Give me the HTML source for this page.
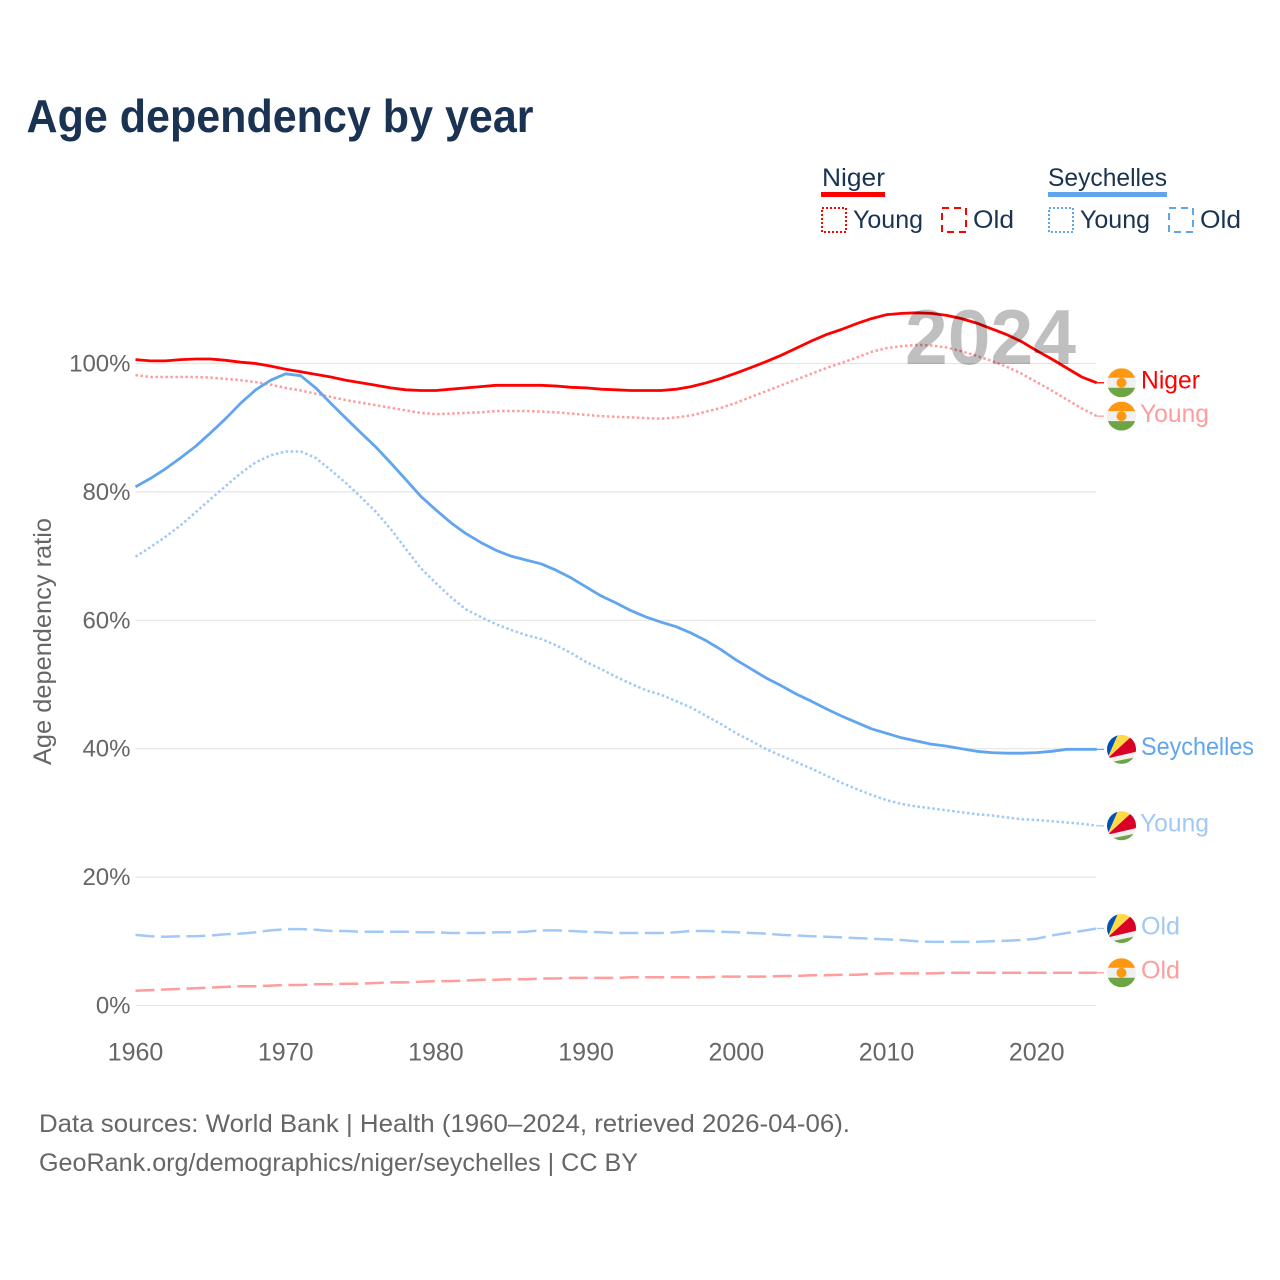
<!DOCTYPE html>
<html lang="en">
<head>
<meta charset="utf-8">
<title>Age dependency by year</title>
<style>
  html,body{margin:0;padding:0;background:#fff;}
  svg{display:block;}
  text{font-family:"Liberation Sans",sans-serif;}
</style>
</head>
<body>
<svg id="chart" width="1280" height="1280" viewBox="0 0 1280 1280" xmlns="http://www.w3.org/2000/svg">
  <rect width="1280" height="1280" fill="#fff"/>
  <text x="26.5" y="132" font-size="46" font-weight="700" fill="#1a3353" textLength="507" lengthAdjust="spacingAndGlyphs">Age dependency by year</text>

  <g font-size="25" fill="#1a3353">
    <text x="822" y="186" textLength="63" lengthAdjust="spacingAndGlyphs">Niger</text>
    <rect x="821" y="192" width="64" height="5" fill="#ff0000"/>
    <rect x="822" y="208" width="24" height="24" fill="none" stroke="#ff0000" stroke-width="2" stroke-dasharray="2 2"/>
    <text x="853" y="228" textLength="70" lengthAdjust="spacingAndGlyphs">Young</text>
    <rect x="942" y="208" width="24" height="24" fill="none" stroke="#ff0000" stroke-width="2" stroke-dasharray="7 5"/>
    <text x="973" y="228" textLength="41" lengthAdjust="spacingAndGlyphs">Old</text>

    <text x="1048" y="186" textLength="119" lengthAdjust="spacingAndGlyphs">Seychelles</text>
    <rect x="1048" y="192" width="119" height="5" fill="#60a5ee"/>
    <rect x="1049" y="208" width="24" height="24" fill="none" stroke="#60a5ee" stroke-width="2" stroke-dasharray="2 2"/>
    <text x="1080" y="228" textLength="70" lengthAdjust="spacingAndGlyphs">Young</text>
    <rect x="1169" y="208" width="24" height="24" fill="none" stroke="#60a5ee" stroke-width="2" stroke-dasharray="7 5"/>
    <text x="1200" y="228" textLength="41" lengthAdjust="spacingAndGlyphs">Old</text>
  </g>

  <g id="grid"></g>
  <g id="yticks"></g>
  <g id="xticks"></g>
  <text transform="translate(51,765) rotate(-90)" font-size="25" fill="#666" textLength="247" lengthAdjust="spacingAndGlyphs">Age dependency ratio</text>
  <g id="series"></g>
  <g id="labels"></g>
  <text id="year" x="905" y="364" font-size="78" font-weight="700" fill="#000" fill-opacity="0.25" textLength="171" lengthAdjust="spacingAndGlyphs">2024</text>

  <text x="39" y="1132" font-size="25" fill="#666" textLength="811" lengthAdjust="spacingAndGlyphs">Data sources: World Bank | Health (1960–2024, retrieved 2026-04-06).</text>
  <text x="39" y="1171" font-size="25" fill="#666" textLength="599" lengthAdjust="spacingAndGlyphs">GeoRank.org/demographics/niger/seychelles | CC BY</text>
</svg>
<script>
const startYear = 1960;
const yTickValues = [0, 20, 40, 60, 80, 100];
const xTickValues = [1960, 1970, 1980, 1990, 2000, 2010, 2020];

const nigerTotal = [100.6,100.4,100.4,100.6,100.7,100.7,100.5,100.2,100.0,99.6,
  99.1,98.7,98.3,97.9,97.4,97.0,96.6,96.2,95.9,95.8,
  95.8,96.0,96.2,96.4,96.6,96.6,96.6,96.6,96.5,96.3,
  96.2,96.0,95.9,95.8,95.8,95.8,96.0,96.4,97.0,97.7,
  98.5,99.4,100.3,101.3,102.4,103.5,104.5,105.3,106.2,107.0,
  107.6,107.8,107.9,107.8,107.5,107.0,106.3,105.4,104.5,103.4,
  102.0,100.7,99.3,97.9,97.0];
const nigerYoung = [98.2,97.9,97.9,97.9,97.9,97.8,97.6,97.4,97.1,96.7,
  96.2,95.8,95.3,94.8,94.3,93.9,93.5,93.1,92.7,92.3,
  92.1,92.2,92.3,92.4,92.6,92.6,92.6,92.5,92.4,92.2,
  92.0,91.8,91.7,91.6,91.5,91.4,91.6,91.9,92.5,93.1,
  93.9,94.8,95.7,96.6,97.5,98.4,99.3,100.1,100.9,101.8,
  102.4,102.7,102.9,102.8,102.5,101.9,101.2,100.4,99.5,98.4,
  97.1,95.8,94.4,93.0,91.8];
const nigerOld = [2.3,2.4,2.5,2.6,2.7,2.8,2.9,3.0,3.0,3.1,
  3.2,3.2,3.3,3.3,3.4,3.4,3.5,3.6,3.6,3.7,
  3.8,3.8,3.9,4.0,4.0,4.1,4.1,4.2,4.2,4.3,
  4.3,4.3,4.3,4.4,4.4,4.4,4.4,4.4,4.4,4.5,
  4.5,4.5,4.5,4.6,4.6,4.7,4.7,4.8,4.8,4.9,
  5.0,5.0,5.0,5.0,5.1,5.1,5.1,5.1,5.1,5.1,
  5.1,5.1,5.1,5.1,5.1];
const seychellesTotal = [80.8,82.1,83.6,85.3,87.1,89.2,91.4,93.8,95.9,97.4,
  98.4,98.1,96.2,93.8,91.5,89.2,87.0,84.5,81.9,79.3,
  77.2,75.2,73.5,72.1,70.9,70.0,69.4,68.8,67.8,66.6,
  65.2,63.8,62.7,61.5,60.5,59.7,59.0,58.0,56.8,55.4,
  53.8,52.4,51.0,49.8,48.5,47.4,46.2,45.1,44.1,43.1,
  42.4,41.7,41.2,40.7,40.4,40.0,39.6,39.4,39.3,39.3,
  39.4,39.6,39.9,39.9,39.9];
const seychellesYoung = [69.9,71.4,73.0,74.8,76.8,78.9,80.9,82.9,84.6,85.7,
  86.3,86.3,85.3,83.4,81.4,79.2,76.9,74.2,71.1,68.1,
  65.8,63.6,61.7,60.5,59.4,58.5,57.7,57.1,56.1,54.9,
  53.5,52.4,51.2,50.1,49.1,48.4,47.4,46.4,45.1,43.8,
  42.4,41.2,39.9,38.9,37.9,36.9,35.8,34.7,33.7,32.8,
  32.0,31.4,31.0,30.7,30.4,30.1,29.8,29.6,29.3,29.0,
  28.9,28.7,28.5,28.3,28.0];
const seychellesOld = [11.0,10.8,10.7,10.8,10.8,10.9,11.1,11.2,11.4,11.7,
  11.9,11.9,11.8,11.6,11.6,11.5,11.5,11.5,11.5,11.4,
  11.4,11.3,11.3,11.3,11.4,11.4,11.5,11.7,11.7,11.6,
  11.5,11.4,11.3,11.3,11.3,11.3,11.4,11.6,11.6,11.5,
  11.4,11.3,11.2,11.0,10.9,10.8,10.7,10.6,10.5,10.4,
  10.3,10.2,10.0,9.9,9.9,9.9,9.9,10.0,10.1,10.2,
  10.4,10.9,11.3,11.6,12.0];

const svgNS = 'http://www.w3.org/2000/svg';
const xScale = year => 135.5 + (year - 1960) * 15.02;
const yScale = val => 1005.5 - val * 6.42;
const plotRight = 1096;

function mk(tag, attrs, parent) {
  const el = document.createElementNS(svgNS, tag);
  for (const k in attrs) el.setAttribute(k, attrs[k]);
  parent.appendChild(el);
  return el;
}

const gridG = document.getElementById('grid');
const yTickG = document.getElementById('yticks');
yTickValues.forEach(v => {
  const ln = mk('line', {x1: 135.5, x2: plotRight, y1: yScale(v), y2: yScale(v), stroke: '#e6e6e6', 'stroke-width': 1.2}, gridG);
  
  
  const t = mk('text', {x: 130.5, y: yScale(v) + 8, 'text-anchor': 'end', 'font-size': 24, fill: '#666'}, yTickG);
  
  
  t.textContent = v + '%';
});

const xTickG = document.getElementById('xticks');
xTickValues.forEach(y => {
  const t = mk('text', {x: xScale(y), y: 1060.5, 'text-anchor': 'middle', 'font-size': 25, fill: '#666'}, xTickG);
  
  
  t.textContent = y;
});

const seriesG = document.getElementById('series');
const labelsG = document.getElementById('labels');
const defs = mk('defs', {}, labelsG);

function drawSeries(name, values, color, width, dash) {
  const pts = values.map((v, i) => xScale(startYear + i).toFixed(1) + ',' + yScale(v).toFixed(1));
  const last = yScale(values[values.length - 1]);
  const attrs = {points: pts.join(' '), fill: 'none', stroke: color, 'stroke-width': width, 'stroke-linejoin': 'round'};
  if (dash) attrs['stroke-dasharray'] = dash;
  const pl = mk('polyline', attrs, seriesG);
  
  
  const conn = mk('line', {x1: xScale(startYear + values.length - 1), x2: 1104, y1: last, y2: last, stroke: color, 'stroke-width': 1.3}, seriesG);
  
  
}

let clipN = 0;
function drawFlag(kind, cy) {
  const cx = 1121.5, r = 14.5;
  const id = 'clip' + (clipN++);
  const cp = mk('clipPath', {id: id}, defs);
  mk('circle', {cx: cx, cy: cy, r: r}, cp);
  const g = mk('g', {'clip-path': 'url(#' + id + ')'}, labelsG);
  
  
  const x0 = cx - r, y0 = cy - r;
  if (kind === 'niger') {
    mk('rect', {x: x0, y: y0, width: 29, height: 29, fill: '#f0f0f0'}, g);
    mk('rect', {x: x0, y: y0, width: 29, height: 9.5, fill: '#ff9811'}, g);
    mk('rect', {x: x0, y: y0 + 19.5, width: 29, height: 9.5, fill: '#6da544'}, g);
    mk('circle', {cx: cx, cy: cy, r: 5, fill: '#ff9811'}, g);
  } else {
    const ox = cx - 14, oy = cy + 9;
    const wedge = (pts, fill) => mk('polygon', {points: ox + ',' + oy + ' ' + pts.map(p => (cx + p[0]) + ',' + (cy + p[1])).join(' '), fill: fill}, g);
    mk('rect', {x: x0, y: y0, width: 29, height: 29, fill: '#f0f0f0'}, g);
    wedge([[-16,-16],[-3,-16]], '#0052b4');
    wedge([[-3,-16],[10,-16],[9.5,-12.5]], '#ffda44');
    wedge([[9.5,-12.5],[16,-13],[16,2]], '#d80027');
    mk('polygon', {points: [[-14,13.5],[16,7.5],[16,16],[-16,16]].map(p => (cx + p[0]) + ',' + (cy + p[1])).join(' '), fill: '#6da544'}, g);
  }
}

function drawEnd(kind, name, text, values, color, labelX, width) {
  const cy = yScale(values[values.length - 1]);
  drawFlag(kind, cy);
  const t = mk('text', {x: labelX, y: cy + 5.8, 'font-size': 25, fill: color, textLength: width, lengthAdjust: 'spacingAndGlyphs'}, labelsG);
  
  
  t.textContent = text;
}

const red = '#ff0000', redLight = '#ff9c9c', blue = '#60a5ee', blueLight = '#a0c9f6';
const dotted = '2.5 2.5', dashed = '19 6.5';
drawSeries('niger-young-line', nigerYoung, redLight, 2.5, dotted);
drawSeries('niger-old-line', nigerOld, redLight, 2.5, dashed);
drawSeries('seychelles-young-line', seychellesYoung, blueLight, 2.5, dotted);
drawSeries('seychelles-old-line', seychellesOld, blueLight, 2.5, dashed);
drawSeries('seychelles-total-line', seychellesTotal, blue, 2.8, null);
drawSeries('niger-total-line', nigerTotal, red, 2.8, null);

drawEnd('niger', 'niger-total-label', 'Niger', nigerTotal, red, 1141, 59);
drawEnd('niger', 'niger-young-label', 'Young', nigerYoung, redLight, 1140, 69);
drawEnd('seychelles', 'seychelles-total-label', 'Seychelles', seychellesTotal, blue, 1141, 113);
drawEnd('seychelles', 'seychelles-young-label', 'Young', seychellesYoung, blueLight, 1140, 69);
drawEnd('seychelles', 'seychelles-old-label', 'Old', seychellesOld, blueLight, 1141, 39);
drawEnd('niger', 'niger-old-label', 'Old', nigerOld, redLight, 1141, 39);
</script>
</body>
</html>
